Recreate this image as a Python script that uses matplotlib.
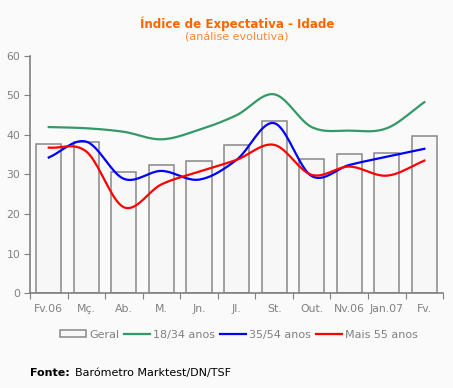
import numpy as np
import matplotlib.pyplot as plt
from matplotlib.patches import Patch
from matplotlib.lines import Line2D

months = ["Fv.06", "Mç.", "Ab.", "M.", "Jn.", "Jl.", "St.", "Out.", "Nv.06", "Jan.07", "Fv."]
geral = [37.7, 38.2, 30.6, 32.3, 33.3, 37.4, 43.5, 33.8, 35.1, 35.4, 39.7]
idade_18_34 = [42.0, 41.7, 40.8, 38.9, 41.3, 45.0, 50.3, 42.0, 41.1, 41.7, 48.3]
idade_35_54 = [34.3, 38.3, 28.9, 30.9, 28.7, 33.7, 43.0, 29.6, 32.4, 34.5, 36.5]
mais_55 = [36.8, 35.8, 21.7, 27.5, 30.7, 33.7, 37.5, 29.9, 32.0, 29.7, 33.5]

grey = "#808080"


def smooth(y, n=20):
    # catmull-rom through the points, just for drawing the curved lines
    y = np.asarray(y, float)
    p = np.concatenate([[2 * y[0] - y[1]], y, [2 * y[-1] - y[-2]]])
    xs, ys = [], []
    t = np.linspace(0, 1, n, endpoint=False)
    for i in range(len(y) - 1):
        p0, p1, p2, p3 = p[i], p[i + 1], p[i + 2], p[i + 3]
        seg = 0.5 * (2 * p1 + (-p0 + p2) * t + (2 * p0 - 5 * p1 + 4 * p2 - p3) * t**2
                     + (-p0 + 3 * p1 - 3 * p2 + p3) * t**3)
        xs.append(i + t)
        ys.append(seg)
    xs.append([len(y) - 1])
    ys.append([y[-1]])
    return np.concatenate(xs), np.concatenate(ys)


fig = plt.figure(figsize=(4.53, 3.88), dpi=100, facecolor="#FAFAFA")
ax = fig.add_axes([0.0662, 0.2448, 0.912, 0.611], facecolor="#FAFAFA")

x = np.arange(len(months))
ax.bar(x, geral, width=0.67, color="#F7F7F7", edgecolor="#888888", linewidth=1.1, zorder=1)

for vals, col in [(idade_18_34, "#339966"), (idade_35_54, "#0000FF"), (mais_55, "#FF0000")]:
    sx, sy = smooth(vals)
    ax.plot(sx, sy, color=col, linewidth=1.6, zorder=3)

ax.set_xlim(-0.5, len(months) - 0.5)
ax.set_ylim(0, 60)
ax.set_yticks(range(0, 61, 10))
ax.set_xticks(np.arange(-0.5, len(months), 1.0))
ax.set_xticklabels([])
ax.set_xticks(x, minor=True)
ax.set_xticklabels(months, minor=True)
ax.tick_params(axis="x", which="minor", length=0, pad=8, labelsize=7.8, labelcolor=grey)
ax.tick_params(axis="x", which="major", length=4, color=grey)
ax.tick_params(axis="y", length=4, color=grey, labelsize=7.8, labelcolor=grey, pad=3)
for s in ["top", "right"]:
    ax.spines[s].set_visible(False)
for s in ["left", "bottom"]:
    ax.spines[s].set_color(grey)
    ax.spines[s].set_linewidth(1.2)

fig.text(0.523, 0.94, "Índice de Expectativa - Idade", ha="center", va="center",
         color="#FF6600", fontsize=8.6, fontweight="bold")
fig.text(0.523, 0.904, "(análise evolutiva)", ha="center", va="center",
         color="#FF8833", fontsize=8)

handles = [Patch(facecolor="#F7F7F7", edgecolor="#888888", linewidth=1.1),
           Line2D([], [], color="#339966", linewidth=1.6),
           Line2D([], [], color="#0000FF", linewidth=1.6),
           Line2D([], [], color="#FF0000", linewidth=1.6)]
leg = fig.legend(handles, ["Geral", "18/34 anos", "35/54 anos", "Mais 55 anos"],
                 loc="center", bbox_to_anchor=(0.528, 0.137), ncol=4, frameon=False,
                 fontsize=8, handlelength=2.3, handleheight=0.6, handletextpad=0.3,
                 columnspacing=0.45)
for t in leg.get_texts():
    t.set_color(grey)

fig.text(0.066, 0.039, "Fonte:", ha="left", va="center", fontsize=8, fontweight="bold")
fig.text(0.166, 0.039, "Barómetro Marktest/DN/TSF", ha="left", va="center", fontsize=8)

plt.savefig("out.png", dpi=100, facecolor=fig.get_facecolor())
